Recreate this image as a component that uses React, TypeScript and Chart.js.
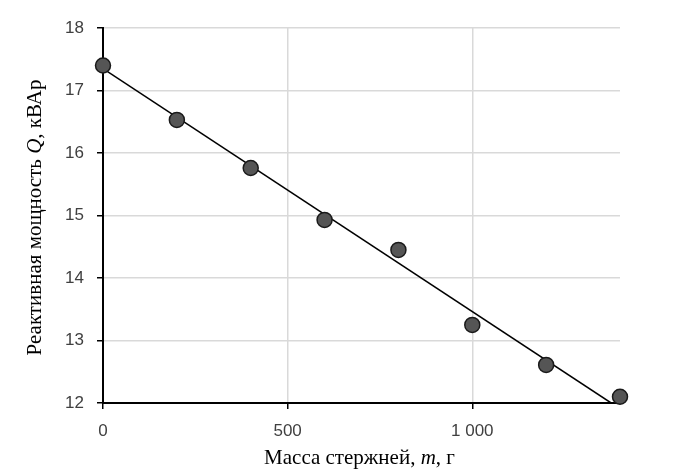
import React, { useEffect, useRef } from 'react';
import { Chart, registerables } from 'chart.js';

Chart.register(...registerables);

// ---- data ----
const massG = [0, 200, 400, 600, 800, 1000, 1200, 1400];
const reactivePowerKVAr = [17.4, 16.53, 15.76, 14.93, 14.45, 13.25, 12.61, 12.1];
const trendMassG = [0, 1376];
const trendPowerKVAr = [17.35, 12.0];
const xTicks = [0, 500, 1000];
const xTickLabels = ['0', '500', '1 000'];
const yTickLabels = ['12', '13', '14', '15', '16', '17', '18'];
const xTitleParts = [
  { text: 'Масса стержней, ', italic: false },
  { text: 'm', italic: true },
  { text: ', г', italic: false },
];
const yTitleParts = [
  { text: 'Реактивная мощность ', italic: false },
  { text: 'Q', italic: true },
  { text: ', кВАр', italic: false },
];

const TITLE_FONT = '"Liberation Serif", "Times New Roman", serif';

const mixedTitles = {
  id: 'mixedTitles',
  afterDraw(chart: any) {
    const ctx = chart.ctx as CanvasRenderingContext2D;
    const { left, right, top, bottom } = chart.chartArea;
    const fontFor = (p: { italic: boolean }) => `${p.italic ? 'italic ' : ''}21px ${TITLE_FONT}`;
    const drawParts = (parts: { text: string; italic: boolean }[], cx: number, cy: number, rotate: boolean) => {
      ctx.save();
      ctx.translate(cx, cy);
      if (rotate) ctx.rotate(-Math.PI / 2);
      ctx.fillStyle = '#000000';
      ctx.textBaseline = 'middle';
      ctx.textAlign = 'left';
      let total = 0;
      parts.forEach((p) => {
        ctx.font = fontFor(p);
        total += ctx.measureText(p.text).width;
      });
      let x = -total / 2;
      parts.forEach((p) => {
        ctx.font = fontFor(p);
        ctx.fillText(p.text, x, 0);
        x += ctx.measureText(p.text).width;
      });
      ctx.restore();
    };
    drawParts(xTitleParts, (left + right) / 2 - 2, 458, false);
    drawParts(yTitleParts, 35, (top + bottom) / 2 + 2, true);
  },
};

export default function App() {
  const canvasRef = useRef<HTMLCanvasElement | null>(null);

  useEffect(() => {
    document.body.style.margin = '0';
    const canvas = canvasRef.current;
    if (!canvas) return;

    const points = massG.map((x, i) => ({ x, y: reactivePowerKVAr[i] }));
    const trend = trendMassG.map((x, i) => ({ x, y: trendPowerKVAr[i] }));

    const tickFont = { family: '"Liberation Sans", Arial, sans-serif', size: 17 };

    const chart = new Chart(canvas, {
      type: 'scatter',
      data: {
        datasets: [
          {
            label: 'Измерения',
            data: points,
            order: 0,
            clip: false,
            showLine: false,
            pointRadius: 7.5,
            pointHoverRadius: 7.5,
            pointBackgroundColor: '#555555',
            pointBorderColor: '#1a1a1a',
            pointBorderWidth: 1.5,
          },
          {
            label: 'Тренд',
            data: trend,
            order: 1,
            showLine: true,
            borderColor: '#000000',
            borderWidth: 1.5,
            pointRadius: 0,
            pointHoverRadius: 0,
            fill: false,
          },
        ],
      },
      options: {
        responsive: false,
        animation: false,
        devicePixelRatio: 1,
        layout: { padding: { top: 28, right: 62, left: 0, bottom: 0 } },
        plugins: {
          legend: { display: false },
          tooltip: { enabled: false },
          title: { display: false },
        },
        scales: {
          x: {
            type: 'linear',
            min: 0,
            max: 1400,
            afterBuildTicks: (s: any) => {
              s.ticks = xTicks.map((v) => ({ value: v }));
            },
            afterFit: (s: any) => {
              s.height = 68;
            },
            ticks: {
              autoSkip: false,
              maxRotation: 0,
              padding: 12,
              color: '#404040',
              font: tickFont,
              callback: (v: any) => {
                const i = xTicks.indexOf(Number(v));
                return i >= 0 ? xTickLabels[i] : '';
              },
            },
            grid: {
              color: '#d9d9d9',
              lineWidth: 1.5,
              tickColor: '#000000',
              tickLength: 6,
              drawTicks: true,
            },
            border: { color: '#000000', width: 2 },
          },
          y: {
            type: 'linear',
            min: 12,
            max: 18,
            afterFit: (s: any) => {
              s.width = 103;
            },
            ticks: {
              stepSize: 1,
              padding: 13,
              color: '#404040',
              font: tickFont,
              callback: (v: any) => {
                const i = Number(v) - 12;
                return yTickLabels[i] ?? '';
              },
            },
            grid: {
              color: '#d9d9d9',
              lineWidth: 1.5,
              tickColor: '#000000',
              tickLength: 6,
              drawTicks: true,
            },
            border: { color: '#000000', width: 2 },
          },
        },
      },
      plugins: [mixedTitles],
    });

    return () => {
      chart.destroy();
    };
  }, []);

  return (
    <div style={{ width: 682, height: 471, position: 'relative', background: '#ffffff' }}>
      <canvas ref={canvasRef} width={682} height={471} />
    </div>
  );
}
